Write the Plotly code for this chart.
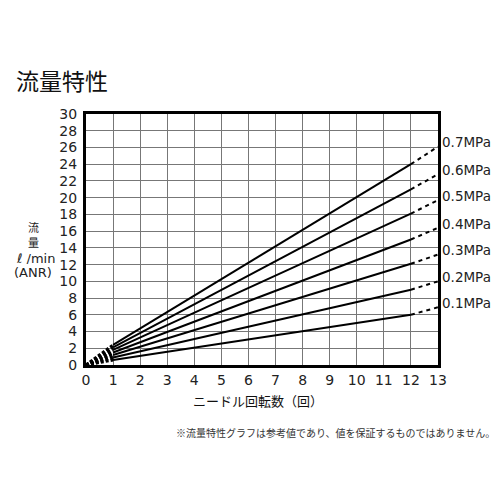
import plotly.graph_objects as go

# flow characteristic data
pressures = ["0.1MPa", "0.2MPa", "0.3MPa", "0.4MPa", "0.5MPa", "0.6MPa", "0.7MPa"]
turns = [1, 12]            # solid range (needle turns)
flow_at_1 = [0.6, 0.9, 1.2, 1.5, 1.8, 2.1, 2.4]
flow_at_12 = [6.0, 9.0, 12.1, 15.0, 18.1, 21.0, 24.0]
flow_at_13 = [6.9, 10.0, 13.2, 16.4, 19.7, 22.8, 26.1]

x_ticks = list(range(0, 14))
y_ticks = list(range(0, 31, 2))

font_jp = "Noto Sans CJK JP"
font_lat = "DejaVu Sans, Noto Sans CJK JP"

fig = go.Figure()

for i, name in enumerate(pressures):
    # dashed start from origin
    fig.add_trace(go.Scatter(x=[0, turns[0]], y=[0, flow_at_1[i]], mode="lines",
                             line=dict(color="black", width=3, dash="3px,2px"),
                             hoverinfo="skip", showlegend=False))
    # solid measured part
    fig.add_trace(go.Scatter(x=turns, y=[flow_at_1[i], flow_at_12[i]], mode="lines",
                             line=dict(color="black", width=2),
                             name=name, showlegend=False))
    # dashed extension
    fig.add_trace(go.Scatter(x=[12, 13], y=[flow_at_12[i], flow_at_13[i]], mode="lines",
                             line=dict(color="black", width=2, dash="4px,4px"),
                             hoverinfo="skip", showlegend=False))
    fig.add_annotation(x=13, y=flow_at_13[i] + 0.5, xref="x", yref="y", text=name,
                       showarrow=False, xanchor="left", xshift=2,
                       font=dict(size=13.5, color="#222", family=font_lat))

# page has an 8px body margin, so figure is 492 and margins shifted by 8
fig.add_annotation(x=-0.205, y=1.135, xref="paper", yref="paper", text="流量特性",
                   showarrow=False, xanchor="left", yanchor="middle",
                   font=dict(size=23, color="#111", family=font_jp))
y_title = [("流", 0.548, -0.150, 11, font_jp),
           ("量", 0.490, -0.150, 11, font_jp),
           ("ℓ /min", 0.426, -0.143, 13, font_lat),
           ("(ANR)", 0.372, -0.150, 13, font_lat)]
for txt, yy, xx, sz, fam in y_title:
    fig.add_annotation(x=xx, y=yy, xref="paper", yref="paper", text=txt,
                       showarrow=False, xanchor="center", yanchor="middle",
                       height=12, font=dict(size=sz, color="#222", family=fam))
fig.add_annotation(x=0.49, y=-0.14, xref="paper", yref="paper", text="ニードル回転数（回）",
                   showarrow=False, xanchor="center", yanchor="middle",
                   font=dict(size=13, color="#111", family=font_jp))
fig.add_annotation(x=1.168, y=-0.267, xref="paper", yref="paper",
                   text="※流量特性グラフは参考値であり、値を保証するものではありません。",
                   showarrow=False, xanchor="right", yanchor="middle",
                   font=dict(size=10, color="#333", family=font_jp))

fig.update_layout(
    width=492, height=492,
    margin=dict(l=78, r=62, t=106, b=135),
    paper_bgcolor="white", plot_bgcolor="white",
    font=dict(family=font_lat, color="#222", size=14),
    xaxis=dict(range=[0, 13], tickvals=x_ticks, showgrid=True, gridcolor="#777",
               gridwidth=1.4, showline=True, linecolor="black", linewidth=3,
               mirror=True, ticks="", zeroline=False, fixedrange=True),
    yaxis=dict(range=[0, 30], tickvals=y_ticks, showgrid=True, gridcolor="#777",
               gridwidth=1.4, showline=True, linecolor="black", linewidth=3,
               mirror=True, ticks="", zeroline=False, fixedrange=True,
               ticklabelstandoff=3),
)

fig.write_html("out.html")
